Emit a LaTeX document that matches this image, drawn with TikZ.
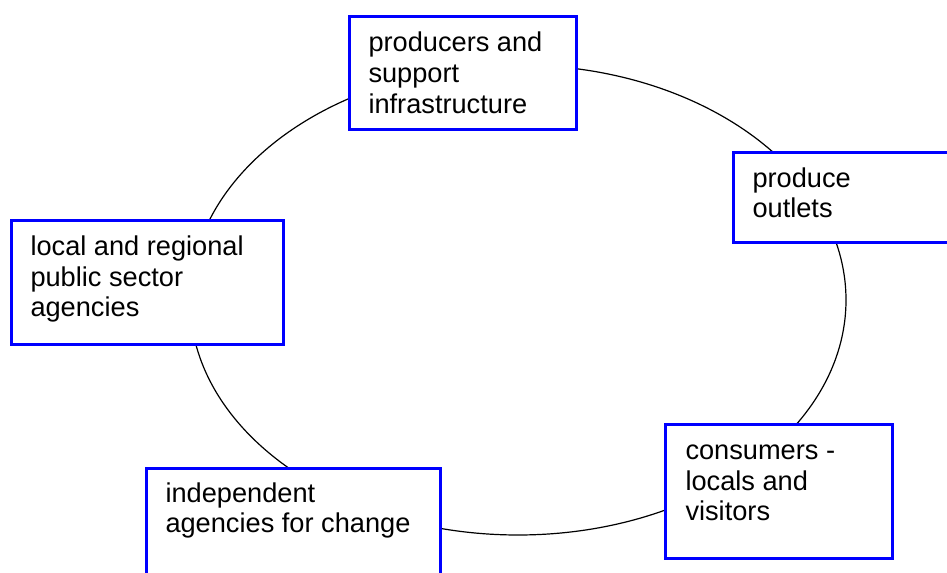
\documentclass[tikz,border=0pt]{standalone}
\usepackage{fontspec}
\setmainfont{Liberation Sans}

\tikzset{every picture/.style={line width=0.75pt}}
\tikzset{
  agentbox/.style={draw={rgb, 255:red, 0; green, 0; blue, 255}, line width=2pt, fill=white, rectangle, anchor=north west, inner sep=0pt},
  agenttext/.style={anchor=base west, inner sep=0pt, align=left, font=\fontsize{20.4}{23.2}\selectfont}
}

\begin{document}
\begin{tikzpicture}[x=0.75pt,y=0.75pt,yscale=-1,xscale=1]
\useasboundingbox (0,0) rectangle (947,573);

%Shape: Ellipse [id:ring]
\draw [color={rgb, 255:red, 0; green, 0; blue, 0 }, line width=0.9pt] (518,300) ellipse [x radius=328, y radius=235];

%Shape: Rectangle [id:prodbox]
\node [agentbox, minimum width=170.25pt, minimum height=84.75pt] (prodbox) at (348,15) {};
%Shape: Rectangle [id:outletbox]
\node [agentbox, minimum width=165pt, minimum height=67.5pt] (outletbox) at (732,151) {};
%Shape: Rectangle [id:publicbox]
\node [agentbox, minimum width=204pt, minimum height=93pt] (publicbox) at (10,219) {};
%Shape: Rectangle [id:consumerbox]
\node [agentbox, minimum width=170.25pt, minimum height=100.5pt] (consumerbox) at (664,423) {};
%Shape: Rectangle [id:changebox]
\node [agentbox, minimum width=220.5pt, minimum height=93pt] (changebox) at (145,467) {};

% Text Node (anchored on the baseline of the last line)
\node [agenttext] (prodtext) at ([xshift=15pt,yshift=74pt]prodbox.north west) {producers and\\support\\infrastructure};
% Text Node
\node [agenttext] (outlettext) at ([xshift=15pt,yshift=50.25pt]outletbox.north west) {produce\\outlets};
% Text Node
\node [agenttext] (publictext) at ([xshift=15pt,yshift=73.5pt]publicbox.north west) {local and regional\\public sector\\agencies};
% Text Node
\node [agenttext] (consumertext) at ([xshift=15.75pt,yshift=73.5pt]consumerbox.north west) {consumers -\\locals and\\visitors};
% Text Node
\node [agenttext] (changetext) at ([xshift=15pt,yshift=49.5pt]changebox.north west) {independent\\agencies for change};

\end{tikzpicture}
\end{document}
